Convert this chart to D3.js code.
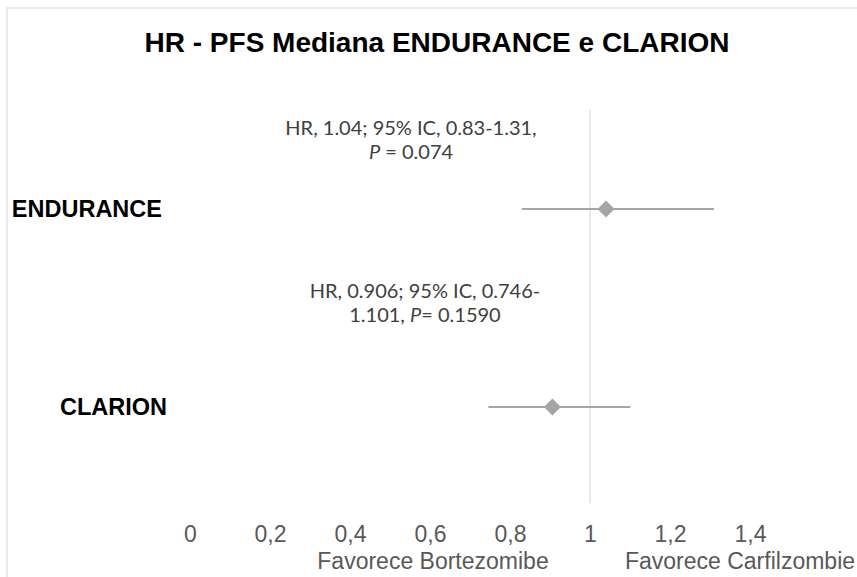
<!DOCTYPE html>
<html><head><meta charset="utf-8">
<script src="https://cdn.jsdelivr.net/npm/d3@7"></script>
<style>body{margin:0;background:#fff}svg{display:block}</style>
</head><body>
<svg id="c" width="857" height="577"></svg>
<script>
const title = "HR - PFS Mediana ENDURANCE e CLARION";
const studies = ["ENDURANCE", "CLARION"];
const hr = [1.04, 0.906];
const ciLow = [0.83, 0.746];
const ciHigh = [1.31, 1.101];
const annotLine1 = ["HR, 1.04; 95% IC, 0.83-1.31,", "HR, 0.906; 95% IC, 0.746-"];
const annotLine2Pre = ["", "1.101, "];
const annotLine2P = ["P", "P"];
const annotLine2Post = [" = 0.074", "= 0.1590"];
const xTicks = [0, 0.2, 0.4, 0.6, 0.8, 1, 1.2, 1.4];
const xTickLabels = ["0", "0,2", "0,4", "0,6", "0,8", "1", "1,2", "1,4"];
const favourLabels = ["Favorece Bortezomibe", "Favorece Carfilzombie"];
const refValue = 1;

const svg = d3.select("#c");
const arial = "Liberation Sans, Arial, sans-serif";
// frame
svg.append("rect").attr("x", 7).attr("y", 8).attr("width", 860).attr("height", 580)
  .attr("fill", "none").attr("stroke", "#ebebeb").attr("stroke-width", 2);

const x = d3.scaleLinear().domain([0, 1]).range([190, 590]);
const y = d3.scalePoint().domain(studies).range([209, 407]);

svg.append("text").attr("x", 437).attr("y", 52).attr("text-anchor", "middle")
  .attr("font-family", arial).attr("font-weight", "bold")
  .attr("font-size", 28).attr("fill", "#000").text(title);

// reference line
svg.append("line").attr("x1", x(refValue)).attr("x2", x(refValue)).attr("y1", 110).attr("y2", 503)
  .attr("stroke", "#d9d9d9").attr("stroke-width", 1.2);

// axis tick labels
const axis = d3.axisBottom(x).tickValues(xTicks).tickFormat((d, i) => xTickLabels[i]).tickSize(0).tickPadding(0);
const gA = svg.append("g").attr("transform", "translate(0,542)").call(axis);
gA.select(".domain").remove();
gA.selectAll("text").attr("dy", 0).attr("font-family", arial).attr("font-size", 23).attr("fill", "#595959");

const favX = [433, 740];
favourLabels.forEach((t, i) => {
  svg.append("text").attr("x", favX[i]).attr("y", 569).attr("text-anchor", "middle")
    .attr("font-family", arial).attr("font-size", 23).attr("fill", "#595959").text(t);
});

// study labels
const labelRight = [162, 167];
studies.forEach((s, i) => {
  svg.append("text").attr("x", labelRight[i]).attr("y", y(s) + 8).attr("text-anchor", "end")
    .attr("font-family", arial).attr("font-weight", "bold")
    .attr("font-size", 23.5).attr("fill", "#000").text(s);
});

// CI lines and diamonds
studies.forEach((s, i) => {
  svg.append("line").attr("x1", x(ciLow[i])).attr("x2", x(ciHigh[i])).attr("y1", y(s)).attr("y2", y(s))
    .attr("stroke", "#a5a5a5").attr("stroke-width", 2);
  svg.append("path").attr("transform", `translate(${x(hr[i])},${y(s)})`)
    .attr("d", "M0,-8.5L8.5,0L0,8.5L-8.5,0Z").attr("fill", "#a5a5a5");
});

// annotations
const annX = [411, 425];
const annY = [135, 298];
studies.forEach((s, i) => {
  const f = "Lato, 'Open Sans', sans-serif";
  svg.append("text").attr("x", annX[i]).attr("y", annY[i]).attr("text-anchor", "middle")
    .attr("font-family", f).attr("font-size", 20).attr("fill", "#404040").text(annotLine1[i]);
  const t2 = svg.append("text").attr("x", annX[i]).attr("y", annY[i] + 24).attr("text-anchor", "middle")
    .attr("font-family", f).attr("font-size", 20).attr("fill", "#404040");
  if (annotLine2Pre[i]) t2.append("tspan").text(annotLine2Pre[i]);
  t2.append("tspan").attr("font-style", "italic").text(annotLine2P[i]);
  t2.append("tspan").text(annotLine2Post[i]);
});
</script>
</body></html>
